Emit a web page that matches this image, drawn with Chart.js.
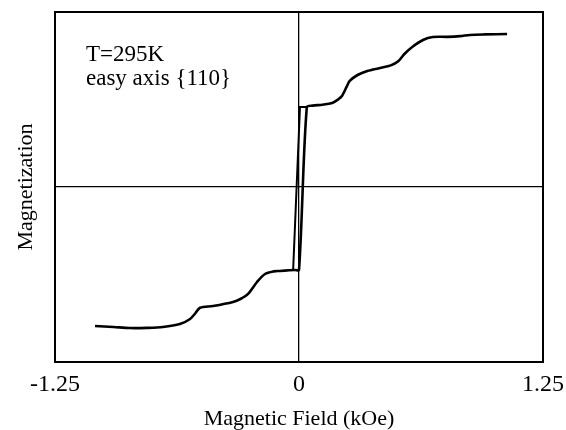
<!DOCTYPE html>
<html>
<head>
<meta charset="utf-8">
<script src="https://cdn.jsdelivr.net/npm/chart.js@4/dist/chart.umd.min.js"></script>
<style>
  html, body { margin: 0; padding: 0; background: #fff; }
  #wrap { width: 566px; height: 430px; position: relative; }
</style>
</head>
<body>
<div id="wrap"><canvas id="magChart"></canvas></div>
<script>
// increasing-field branch (kOe, arbitrary units)
const fieldUp = [-1.045, -0.95, -0.866, -0.78, -0.697, -0.61, -0.558, -0.53, -0.507, -0.44, -0.338, -0.30, -0.261, -0.215, -0.174, -0.13, -0.097, -0.05, -0.02, 0.0,
  0.04, 0.07, 0.12, 0.17, 0.20, 0.22, 0.245, 0.26, 0.30, 0.35, 0.415, 0.47, 0.51, 0.54, 0.58, 0.635, 0.686, 0.76, 0.825, 0.876, 0.95, 1.066];
const momentUp = [-0.794, -0.80, -0.806, -0.805, -0.80, -0.783, -0.754, -0.72, -0.69, -0.68, -0.657, -0.64, -0.611, -0.543, -0.497, -0.482, -0.48, -0.476, -0.474, -0.474,
  0.457, 0.465, 0.47, 0.48, 0.50, 0.52, 0.575, 0.606, 0.64, 0.663, 0.68, 0.695, 0.72, 0.76, 0.80, 0.84, 0.857, 0.858, 0.862, 0.869, 0.872, 0.874];
// return branch of the small loop near zero field
const fieldBack = [0.04, 0.005, -0.03, -0.01];
const momentBack = [0.457, 0.457, -0.474, -0.474];

const xTicks = [-1.25, 0, 1.25];

const serif = '"Liberation Serif", "DejaVu Serif", serif';

const toPoints = (xs, ys) => xs.map((x, i) => ({ x: x, y: ys[i] }));

const frame = {
  id: 'frame',
  afterDraw(chart) {
    const a = chart.chartArea;
    const c = chart.ctx;
    c.save();
    c.strokeStyle = '#000';
    c.lineWidth = 2;
    c.strokeRect(a.left, a.top, a.right - a.left, a.bottom - a.top);
    c.fillStyle = '#000';
    c.font = '23px ' + serif;
    c.textBaseline = 'alphabetic';
    c.fillText('T=295K', a.left + 31, 61);
    c.fillText('easy axis {110}', a.left + 31, 85);
    c.restore();
  }
};

const ctx = document.getElementById('magChart').getContext('2d');
const magChart = new Chart(ctx, {
  type: 'scatter',
  data: {
    datasets: [{
      data: toPoints(fieldUp, momentUp),
      showLine: true,
      borderColor: '#000',
      borderWidth: 2.6,
      pointRadius: 0,
      tension: 0.3
    }, {
      data: toPoints(fieldBack, momentBack),
      showLine: true,
      borderColor: '#000',
      borderWidth: 2,
      pointRadius: 0,
      tension: 0
    }]
  },
  options: {
    responsive: true,
    maintainAspectRatio: false,
    animation: false,
    layout: { padding: { top: 12, right: 23, left: 0, bottom: 0 } },
    plugins: { legend: { display: false }, tooltip: { enabled: false } },
    scales: {
      x: {
        type: 'linear',
        min: -1.25,
        max: 1.25,
        afterBuildTicks: (s) => { s.ticks = xTicks.map(v => ({ value: v })); },
        afterFit: (s) => { s.height = 68; s.paddingLeft = 0; s.paddingRight = 0; },
        border: { display: false },
        grid: {
          drawTicks: false,
          color: (c) => c.tick && c.tick.value === 0 ? '#000' : 'rgba(0,0,0,0)',
          lineWidth: 1.3
        },
        ticks: {
          color: '#000',
          padding: 8,
          maxRotation: 0,
          font: { family: serif, size: 24 },
          callback: (v) => v === 0 ? '0' : String(v)
        },
        title: {
          display: true,
          text: 'Magnetic Field (kOe)',
          color: '#000',
          padding: { top: 0, bottom: 0 },
          font: { family: serif, size: 22, lineHeight: 0.95 }
        }
      },
      y: {
        type: 'linear',
        min: -1,
        max: 1,
        afterBuildTicks: (s) => { s.ticks = [{ value: 0 }]; },
        afterFit: (s) => { s.width = 55; s.paddingTop = 0; s.paddingBottom = 0; },
        border: { display: false },
        grid: {
          drawTicks: false,
          color: (c) => c.tick && c.tick.value === 0 ? '#000' : 'rgba(0,0,0,0)',
          lineWidth: 1.3
        },
        ticks: { display: false },
        title: {
          display: true,
          text: 'Magnetization',
          color: '#000',
          padding: { top: 13, bottom: 0 },
          font: { family: serif, size: 22 }
        }
      }
    }
  },
  plugins: [frame]
});
</script>
</body>
</html>
